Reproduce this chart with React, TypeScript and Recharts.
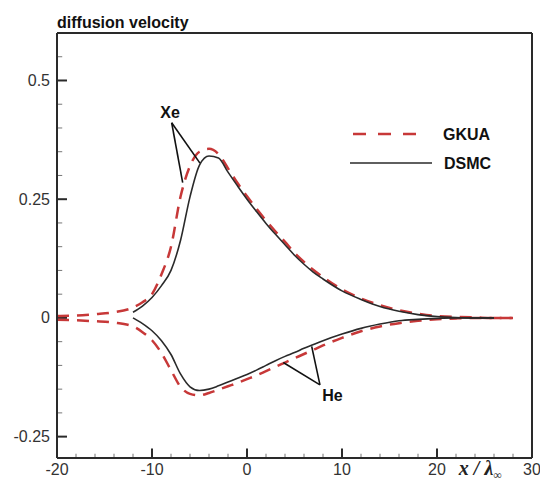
import {
  LineChart,
  Line,
  XAxis,
  YAxis,
  ReferenceLine,
  ReferenceDot,
  Legend,
  Label,
} from "recharts"

const FONT = '"Liberation Sans", Arial, Helvetica, sans-serif'
const RED = "#c73838"
const INK = "#2a2a2a"

// GKUA grid (x / lambda)
const gkuaX = [-20, -18, -16, -14, -12, -11, -10, -9, -8, -7, -6, -5, -4, -3, -2, -1, 0, 1, 2, 3, 4, 5, 6, 7, 8, 10, 12, 14, 16, 18, 20, 22, 24, 26, 28]
const gkuaXe = [0.004, 0.005, 0.008, 0.012, 0.022, 0.033, 0.05, 0.092, 0.15, 0.255, 0.32, 0.35, 0.356, 0.345, 0.315, 0.284, 0.256, 0.23, 0.205, 0.182, 0.16, 0.137, 0.118, 0.101, 0.086, 0.06, 0.041, 0.027, 0.016, 0.009, 0.004, 0.002, 0.001, 0, 0]
const gkuaHe = [-0.004, -0.005, -0.007, -0.01, -0.018, -0.03, -0.047, -0.074, -0.11, -0.145, -0.16, -0.163, -0.158, -0.151, -0.144, -0.137, -0.129, -0.121, -0.112, -0.103, -0.094, -0.085, -0.076, -0.067, -0.058, -0.042, -0.028, -0.018, -0.011, -0.006, -0.003, -0.001, 0, 0, 0]

// DSMC grid
const dsmcX = [-12, -11, -10, -9, -8, -7, -6, -5, -4, -3, -2, -1, 0, 1, 2, 3, 4, 5, 6, 7, 8, 10, 12, 14, 16, 18, 20, 22, 24, 26]
const dsmcXe = [0.012, 0.025, 0.043, 0.068, 0.1, 0.163, 0.255, 0.322, 0.341, 0.337, 0.307, 0.278, 0.25, 0.224, 0.199, 0.176, 0.154, 0.132, 0.113, 0.096, 0.082, 0.057, 0.039, 0.024, 0.014, 0.007, 0.003, 0.001, 0, 0]
const dsmcHe = [0, -0.012, -0.027, -0.048, -0.077, -0.118, -0.145, -0.153, -0.15, -0.143, -0.135, -0.127, -0.119, -0.11, -0.1, -0.09, -0.081, -0.073, -0.064, -0.056, -0.048, -0.034, -0.022, -0.013, -0.006, -0.003, -0.001, 0, 0, 0]

const xTicks = [-20, -18, -16, -14, -12, -10, -8, -6, -4, -2, 0, 2, 4, 6, 8, 10, 12, 14, 16, 18, 20, 22, 24, 26, 28, 30]
const yTicks = [-0.25, -0.2, -0.15, -0.1, -0.05, 0, 0.05, 0.1, 0.15, 0.2, 0.25, 0.3, 0.35, 0.4, 0.45, 0.5, 0.55]
const xDomain = [-20, 30]
const yDomain = [-0.295, 0.6]

const toRows = (xs: number[], ys: number[]) => xs.map((x, i) => ({ x, v: ys[i] }))

const gkuaXeData = toRows(gkuaX, gkuaXe)
const gkuaHeData = toRows(gkuaX, gkuaHe)
const dsmcXeData = toRows(dsmcX, dsmcXe)
const dsmcHeData = toRows(dsmcX, dsmcHe)

const isMajorY = (v: number) => Math.abs(v * 4 - Math.round(v * 4)) < 1e-9
const isMajorX = (v: number) => v % 10 === 0

// inward tick lengths, in axis units (about 10px / 5px)
const yTickLen = (v: number) => (isMajorY(v) ? 1.05 : 0.55)
const xTickLen = (v: number) => (isMajorX(v) ? 0.02 : 0.009)

const YTick = (props: any) => {
  const { x, y, payload } = props
  if (!isMajorY(payload.value)) return <g />
  return (
    <text x={x - 7} y={y} dy={5.5} textAnchor="end" fontSize={16} fontFamily={FONT} fill="#333">
      {String(Math.round(payload.value * 100) / 100)}
    </text>
  )
}

const XTick = (props: any) => {
  const { x, y, payload } = props
  if (!isMajorX(payload.value)) return <g />
  return (
    <text x={x} y={y + 17} textAnchor="middle" fontSize={16} fontFamily={FONT} fill="#333">
      {payload.value}
    </text>
  )
}

const AxisTitle = (props: any) => {
  const { viewBox } = props
  const x = viewBox.x + viewBox.width * 0.846
  return (
    <text x={x} y={viewBox.y + 17} fontFamily='"Liberation Serif", "DejaVu Serif", serif' fontStyle="italic" fontWeight="bold" fontSize={20} fill="#222">
      x / λ
      <tspan fontSize={12} dy={4}>∞</tspan>
    </text>
  )
}

const renderLegend = () => (
  <svg width={170} height={50}>
    <line x1={13} x2={76} y1={14} y2={14} stroke={RED} strokeWidth={2.5} strokeDasharray="13 12" />
    <text x={103} y={19.5} fontFamily={FONT} fontWeight="bold" fontSize={16} fill="#111">GKUA</text>
    <line x1={10} x2={92} y1={43} y2={43} stroke={INK} strokeWidth={1.5} />
    <text x={104} y={48.5} fontFamily={FONT} fontWeight="bold" fontSize={16} fill="#111">DSMC</text>
  </svg>
)

const noteLabel = (value: string) => ({
  value,
  position: "center" as const,
  fontSize: 16,
  fontWeight: "bold",
  fontFamily: FONT,
  fill: "#111",
})

export default function App() {
  return (
    <div style={{ position: "absolute", left: 0, top: 0, width: 540, height: 481, background: "#fff" }}>
      <div style={{ position: "absolute", left: 57, top: 14, fontFamily: FONT, fontWeight: "bold", fontSize: 16, color: "#111" }}>
        diffusion velocity
      </div>
      <LineChart width={540} height={481} margin={{ top: 33, right: 8, bottom: 0, left: 0 }}>
        <XAxis
          dataKey="x"
          type="number"
          domain={xDomain}
          ticks={xTicks}
          interval={0}
          height={23}
          tickSize={0}
          tickMargin={0}
          tickLine={false}
          axisLine={{ stroke: INK, strokeWidth: 2 }}
          tick={<XTick />}
        >
          <Label content={<AxisTitle />} />
        </XAxis>
        <YAxis
          type="number"
          domain={yDomain}
          ticks={yTicks}
          interval={0}
          width={57}
          tickSize={0}
          tickMargin={0}
          tickLine={false}
          axisLine={{ stroke: INK, strokeWidth: 2 }}
          tick={<YTick />}
        />
        <ReferenceLine y={yDomain[1]} stroke={INK} strokeWidth={2} />
        <ReferenceLine x={xDomain[1]} stroke={INK} strokeWidth={2} />
        {yTicks.map((v) => (
          <ReferenceLine
            key={`yt${v}`}
            segment={[{ x: xDomain[0], y: v }, { x: xDomain[0] + yTickLen(v), y: v }]}
            stroke={isMajorY(v) ? INK : "#777"}
            strokeWidth={isMajorY(v) ? 2 : 1}
          />
        ))}
        {xTicks.slice(1, -1).map((v) => (
          <ReferenceLine
            key={`xt${v}`}
            segment={[{ x: v, y: yDomain[0] }, { x: v, y: yDomain[0] + xTickLen(v) }]}
            stroke={isMajorX(v) ? INK : "#777"}
            strokeWidth={isMajorX(v) ? 2 : 1}
          />
        ))}

        <Line data={gkuaXeData} dataKey="v" type="monotone" stroke={RED} strokeWidth={2.5} strokeDasharray="12 8" dot={false} isAnimationActive={false} name="GKUA" />
        <Line data={gkuaHeData} dataKey="v" type="monotone" stroke={RED} strokeWidth={2.5} strokeDasharray="12 8" dot={false} isAnimationActive={false} legendType="none" />
        <Line data={dsmcXeData} dataKey="v" type="monotone" stroke={INK} strokeWidth={1.6} dot={false} isAnimationActive={false} name="DSMC" />
        <Line data={dsmcHeData} dataKey="v" type="monotone" stroke={INK} strokeWidth={1.6} dot={false} isAnimationActive={false} legendType="none" />

        <ReferenceLine segment={[{ x: -7.93, y: 0.411 }, { x: -6.77, y: 0.285 }]} stroke="#111" strokeWidth={1.6} />
        <ReferenceLine segment={[{ x: -7.93, y: 0.411 }, { x: -4.95, y: 0.326 }]} stroke="#111" strokeWidth={1.6} />
        <ReferenceDot x={-8.1} y={0.432} r={1} fill="none" stroke="none" label={noteLabel("Xe")} />

        <ReferenceLine segment={[{ x: 7.68, y: -0.141 }, { x: 3.82, y: -0.094 }]} stroke="#111" strokeWidth={1.6} />
        <ReferenceLine segment={[{ x: 7.68, y: -0.141 }, { x: 6.81, y: -0.06 }]} stroke="#111" strokeWidth={1.6} />
        <ReferenceDot x={9.0} y={-0.162} r={1} fill="none" stroke="none" label={noteLabel("He")} />

        <Legend
          layout="vertical"
          align="center"
          verticalAlign="middle"
          content={renderLegend}
          wrapperStyle={{ position: "absolute", left: 340, top: 120, width: 170, height: 50 }}
        />
      </LineChart>
    </div>
  )
}
